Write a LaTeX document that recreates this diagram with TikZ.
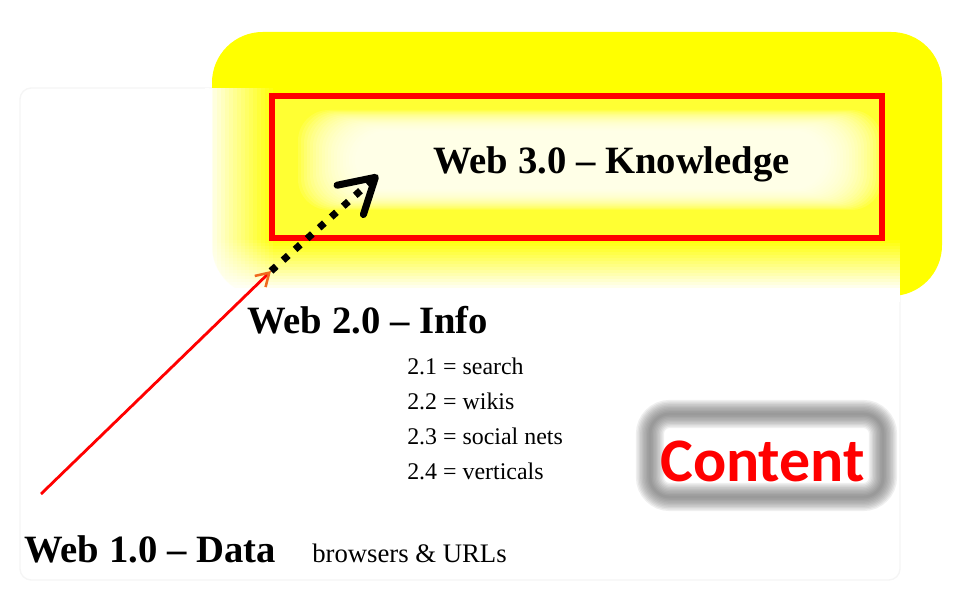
\documentclass[tikz,border=0pt]{standalone}
\usepackage{fontspec}
\setmainfont{Liberation Serif}
\newfontfamily\calibrifont{Carlito}
\usetikzlibrary{arrows.meta, positioning}

\definecolor{glare}{RGB}{255,255,0}
\definecolor{tipcolor}{RGB}{240,105,30}

\begin{document}
\begin{tikzpicture}[x=0.025cm, y=-0.025cm,
        % Estilos (texto, moldura, brilho e setas)
        webtitle/.style={anchor=base west, inner sep=0pt, font=\fontsize{27.5}{30}\selectfont\bfseries},
        webnote/.style={anchor=base west, inner sep=0pt, font=\fontsize{17}{20}\selectfont},
        frame/.style={draw=red, line width=3.6pt, fill=white, fill opacity=0.2},
        glow/.style={white, opacity=0.11, rounded corners=22pt},
        haze/.style={draw=black!60, opacity=0.1, rounded corners=14pt},
        growth/.style={red, line width=2pt, -{Straight Barb[color=tipcolor, length=9pt, width=11pt, line width=1.8pt]}},
        leap/.style={line width=5pt, dash pattern=on 5pt off 6.5pt, -{Straight Barb[length=24pt, width=28pt, line width=5pt, round]}}
    ]
    \useasboundingbox (0,0) rectangle (976,596);

    % 1. Fundo: contorno suave e area amarela (bordas esmaecidas)
    \draw[black!4, line width=1pt, rounded corners=8pt] (20,88) rectangle (900,580);
    \fill[glare, rounded corners=36pt] (212,32) rectangle (942,296);
    \foreach \k in {1,...,17}
        \fill[white, opacity=1/\k] (205,88) rectangle (205+4*\k, 291);
    \foreach \k in {1,...,17}
        \fill[white, opacity=1/\k] (205,302) rectangle (900, 291-3*\k);

    % 2. Brilho branco e moldura da Web 3.0
    \foreach \i in {0,...,19}
        \fill[glow] (298+3*\i, 110+1.1*\i) rectangle (882-3*\i, 210-1.1*\i);
    \draw[frame] (272,96) rectangle (882,238);
    \node[webtitle] (web3) at (433,174) {Web 3.0 -- Knowledge};

    % 3. Setas (Web 1.0 -> Web 2.0 -> Web 3.0)
    \coordinate (origin) at (41,494);
    \coordinate (bend) at (271,271);
    \coordinate (goal) at (378,175);
    \draw[leap] (bend) -- (goal);
    \draw[growth] (origin) -- (bend);

    % 4. Web 2.0 e subitens
    \node[webtitle] (web2) at (247,334) {Web 2.0 -- Info};
    \foreach \t [count=\i] in {search, wikis, social nets, verticals}
        \node[webnote] (sub\i) at (407, 340+35*\i) {2.\i{} = \t};

    % 5. Web 1.0
    \node[webtitle] (web1) at (24,563) {Web 1.0 -- Data};
    \node[webnote, font=\fontsize{19}{22}\selectfont] (browse) at (312,563) {browsers \& URLs};

    % 6. Caixa "Content" com sombra cinza
    \foreach \w in {1,...,10}
        \draw[haze, line width=\w*2pt] (650,414) rectangle (883,497);
    \node[anchor=base west, inner sep=0pt, text=red, font=\calibrifont\bfseries\fontsize{44}{48}\selectfont] (content) at (660,482) {Content};

\end{tikzpicture}
\end{document}
